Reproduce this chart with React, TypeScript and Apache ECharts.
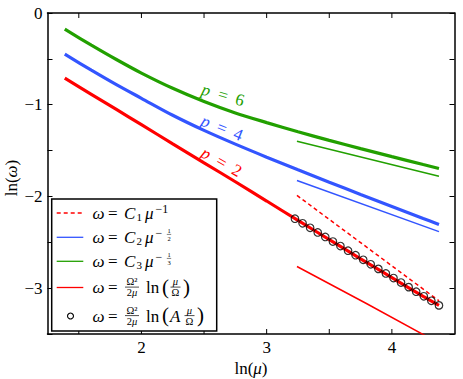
import React, { useEffect, useRef } from 'react';
import * as echarts from 'echarts';

const FONT = 'Liberation Serif, serif';
const RED = '#ff0000';
const BLUE = '#3355ff';
const GREEN = '#22a000';

const X_MIN = 1.25;
const X_MAX = 4.5;
const Y_MIN = -3.5;
const Y_MAX = 0;
const X_TICKS = [1.5, 2, 2.5, 3, 3.5, 4];

// thick curves (p = 6, 4, 2), sampled at lnMu
const lnMu = [1.388, 1.6, 1.8, 2.0, 2.25, 2.5, 2.75, 3.0, 3.25, 3.5, 3.75, 4.0, 4.25, 4.376];
const greenThick = [-0.177, -0.35, -0.507, -0.655, -0.821, -0.965, -1.09, -1.195, -1.295, -1.389, -1.479, -1.566, -1.652, -1.695];
const blueThick = [-0.449, -0.623, -0.781, -0.93, -1.115, -1.28, -1.43, -1.572, -1.71, -1.845, -1.978, -2.11, -2.241, -2.305];
const redThick = [-0.71, -0.886, -1.052, -1.218, -1.426, -1.633, -1.84, -2.05, -2.262, -2.47, -2.68, -2.885, -3.09, -3.188];

// asymptotes
const asymX = [3.242, 4.376];
const redDash = [-1.989, -3.138];
const blueThin = [-1.826, -2.384];
const greenThin = [-1.399, -1.779];
const redThinX = [3.242, 3.8, 4.376];
const redThin = [-2.764, -3.17, -3.6];

// circle markers
const circX = [3.226, 3.287, 3.347, 3.408, 3.468, 3.529, 3.589, 3.65, 3.71, 3.771, 3.831, 3.892, 3.952, 4.013, 4.073, 4.134, 4.194, 4.255, 4.315, 4.376];
const circY = [-2.243, -2.293, -2.342, -2.393, -2.442, -2.492, -2.541, -2.592, -2.641, -2.691, -2.74, -2.79, -2.84, -2.89, -2.939, -2.989, -3.039, -3.089, -3.138, -3.188];

const zip = (xs: number[], ys: number[]) => xs.map((x, i) => [x, ys[i]]);
const isInt = (v: number) => Math.abs(v - Math.round(v)) < 1e-6;
const fmtNum = (v: number) => {
  const r = Math.round(v);
  return r < 0 ? '\u2212' + Math.abs(r) : String(r);
};

const T = (x: number, y: number, text: string, size = 16, italic = false, align = 'left', extra: any = {}) => ({
  type: 'text',
  x,
  y,
  z: 110,
  silent: true,
  style: {
    text,
    fontSize: size,
    fontFamily: FONT,
    fontStyle: italic ? 'italic' : 'normal',
    fill: '#000',
    align,
    verticalAlign: 'middle',
    lineHeight: size,
    ...extra,
  },
});

const L = (x1: number, y1: number, x2: number, y2: number, stroke = '#000', lineWidth = 0.8, lineDash?: number[]) => ({
  type: 'line',
  z: 110,
  silent: true,
  shape: { x1, y1, x2, y2 },
  style: { stroke, lineWidth, lineDash },
});

const richI = (size: number) => ({ rich: { i: { fontStyle: 'italic', fontFamily: FONT, fontSize: size, lineHeight: size } } });

const frac = (cx: number, cy: number, num: string, den: string, w: number, size = 10.5) => [
  T(cx, cy - 5.6, num, size, false, 'center', richI(size)),
  L(cx - w / 2, cy - 0.4, cx + w / 2, cy - 0.4, '#000', 0.7),
  T(cx, cy + 5.4, den, size, false, 'center', richI(size)),
];

function buildLegend() {
  const rows = [213, 237.3, 261.3, 287.5, 316];
  const els: any[] = [];
  els.push({
    type: 'rect',
    z: 105,
    silent: true,
    shape: { x: 51.7, y: 199, width: 165, height: 132 },
    style: { fill: '#fff', stroke: '#000', lineWidth: 1.5 },
  });
  // samples
  els.push(L(56.7, rows[0], 83.3, rows[0], RED, 1.3, [4, 3]));
  els.push(L(56.7, rows[1], 83.3, rows[1], BLUE, 1.3));
  els.push(L(56.7, rows[2], 83.3, rows[2], GREEN, 1.3));
  els.push(L(56.7, rows[3], 83.3, rows[3], RED, 1.3));
  els.push({
    type: 'circle',
    z: 110,
    silent: true,
    shape: { cx: 70.5, cy: rows[4], r: 3 },
    style: { fill: 'none', stroke: '#000', lineWidth: 1.1 },
  });
  rows.forEach((cy) => {
    els.push(T(92.5, cy, '\u03c9', 17, true));
    els.push(T(108, cy, '=', 17));
  });
  // rows 1-3: C_k mu^-...
  [0, 1, 2].forEach((k) => {
    const cy = rows[k];
    els.push(T(124, cy, 'C', 17, true));
    els.push(T(136.5, cy + 3.5, String(k + 1), 11));
    els.push(T(145, cy, '\u03bc', 17, true));
  });
  els.push(T(155.5, rows[0] - 4.5, '\u22121', 12));
  [1, 2].forEach((k) => {
    const cy = rows[k];
    els.push(T(155.5, cy - 4.5, '\u2212', 12));
    els.push(T(169, cy - 6.5, '1', 6.5, false, 'center'));
    els.push(L(166.8, cy - 2.9, 171.2, cy - 2.9, '#000', 0.5));
    els.push(T(169, cy + 0.8, k === 1 ? '2' : '3', 6.5, false, 'center'));
  });
  // rows 4-5
  [3, 4].forEach((k) => {
    const cy = rows[k];
    els.push(...frac(132, cy, '\u03a9\u00b2', '2{i|\u03bc}', 14));
    els.push(T(146, cy, 'ln', 17));
    els.push(T(162, cy - 1, '(', 21));
  });
  els.push(...frac(175.5, rows[3], '{i|\u03bc}', '\u03a9', 10));
  els.push(T(183, rows[3] - 1, ')', 21));
  els.push(T(170, rows[4], 'A', 17, true));
  els.push(...frac(189.5, rows[4], '{i|\u03bc}', '\u03a9', 10));
  els.push(T(197, rows[4] - 1, ')', 21));
  return els;
}

function pLabel(x: number, y: number, deg: number, val: string, color: string) {
  return {
    type: 'text',
    x,
    y,
    rotation: (-deg * Math.PI) / 180,
    z: 50,
    silent: true,
    style: {
      text: '{i|p}\u2002=\u2002' + val,
      fontSize: 17,
      fontFamily: FONT,
      fill: color,
      align: 'center',
      verticalAlign: 'middle',
      rich: { i: { fontStyle: 'italic', fontSize: 17, fontFamily: FONT, fill: color } },
    },
  };
}

export default function App() {
  const ref = useRef<HTMLDivElement>(null);
  useEffect(() => {
    if (!ref.current) return;
    const chart = echarts.init(ref.current, null, { renderer: 'svg' });
    const axisLine = { show: true, onZero: false, lineStyle: { color: '#000', width: 1.5 } };
    const labelBase = { color: '#000', fontSize: 17, fontFamily: FONT };
    const thin = (name: string, data: number[][], color: string, dash?: number[]) => ({
      type: 'line',
      name,
      data,
      showSymbol: false,
      symbol: 'none',
      lineStyle: { color, width: 1.5, type: dash ? dash : 'solid' },
      z: 3,
    });
    const option: any = {
      animation: false,
      backgroundColor: '#fff',
      textStyle: { fontFamily: FONT },
      grid: { left: 47.5, right: 8.5, top: 13, bottom: 45 },
      xAxis: [
        {
          type: 'value',
          min: X_MIN,
          max: X_MAX,
          interval: 0.25,
          position: 'bottom',
          axisLine,
          axisTick: { show: false },
          splitLine: { show: false },
          axisLabel: {
            ...labelBase,
            margin: 5,
            formatter: (v: number) => (isInt(v) ? fmtNum(v) : ''),
          },
        },
        {
          type: 'value',
          min: X_MIN,
          max: X_MAX,
          interval: 0.25,
          position: 'top',
          axisLine,
          axisTick: { show: false },
          splitLine: { show: false },
          axisLabel: { show: false },
        },
      ],
      yAxis: [
        {
          type: 'value',
          min: Y_MIN,
          max: Y_MAX,
          interval: 0.5,
          position: 'left',
          axisLine,
          axisTick: { show: true, inside: true, length: 5, lineStyle: { color: '#000', width: 1 } },
          splitLine: { show: false },
          axisLabel: {
            ...labelBase,
            margin: 5,
            formatter: (v: number) => (isInt(v) ? fmtNum(v) : ''),
          },
        },
        {
          type: 'value',
          min: Y_MIN,
          max: Y_MAX,
          interval: 0.5,
          position: 'right',
          axisLine,
          axisTick: { show: true, inside: true, length: 5, lineStyle: { color: '#000', width: 1 } },
          splitLine: { show: false },
          axisLabel: { show: false },
        },
      ],
      series: [
        {
          type: 'custom',
          silent: true,
          clip: false,
          z: 4,
          data: X_TICKS.map((v) => [v, Y_MIN]),
          renderItem: (_p: any, api: any) => {
            const v = api.value(0);
            const b = api.coord([v, Y_MIN]);
            const t = api.coord([v, Y_MAX]);
            return {
              type: 'group',
              children: [
                { type: 'line', shape: { x1: b[0], y1: b[1], x2: b[0], y2: b[1] - 5 }, style: { stroke: '#000', lineWidth: 1 } },
                { type: 'line', shape: { x1: t[0], y1: t[1], x2: t[0], y2: t[1] + 5 }, style: { stroke: '#000', lineWidth: 1 } },
              ],
            };
          },
        },
        {
          type: 'line', name: 'p=6', data: zip(lnMu, greenThick), showSymbol: false, symbol: 'none', smooth: 0.3,
          lineStyle: { color: GREEN, width: 3.2 }, z: 2,
        },
        {
          type: 'line', name: 'p=4', data: zip(lnMu, blueThick), showSymbol: false, symbol: 'none', smooth: 0.3,
          lineStyle: { color: BLUE, width: 3.2 }, z: 2,
        },
        {
          type: 'line', name: 'p=2', data: zip(lnMu, redThick), showSymbol: false, symbol: 'none', smooth: 0.3,
          lineStyle: { color: RED, width: 3.2 }, z: 2,
        },
        thin('C1', zip(asymX, redDash), RED, [4, 3]),
        thin('C2', zip(asymX, blueThin), BLUE),
        thin('C3', zip(asymX, greenThin), GREEN),
        thin('ln', zip(redThinX, redThin), RED),
        {
          type: 'scatter',
          name: 'lnA',
          data: zip(circX, circY),
          symbol: 'circle',
          symbolSize: 7.5,
          itemStyle: { color: 'rgba(0,0,0,0)', borderColor: '#000', borderWidth: 1.2 },
          z: 5,
        },
      ],
      graphic: {
        elements: [
          pLabel(223, 95, 16, '6', GREEN),
          pLabel(222, 128, 22, '4', BLUE),
          pLabel(221.5, 162, 29, '2', RED),
          {
            type: 'text',
            x: 251,
            y: 368,
            silent: true,
            style: {
              text: 'ln({i|\u03bc})',
              fontSize: 17,
              fontFamily: FONT,
              fill: '#000',
              align: 'center',
              verticalAlign: 'middle',
              rich: { i: { fontStyle: 'italic', fontSize: 17, fontFamily: FONT, fill: '#000' } },
            },
          },
          {
            type: 'text',
            x: 11,
            y: 178,
            rotation: Math.PI / 2,
            silent: true,
            style: {
              text: 'ln({i|\u03c9})',
              fontSize: 17,
              fontFamily: FONT,
              fill: '#000',
              align: 'center',
              verticalAlign: 'middle',
              rich: { i: { fontStyle: 'italic', fontSize: 17, fontFamily: FONT, fill: '#000' } },
            },
          },
          ...buildLegend(),
        ],
      },
    };
    chart.setOption(option);
    return () => chart.dispose();
  }, []);
  return <div ref={ref} style={{ position: 'fixed', left: 0, top: 0, width: 463, height: 379 }} />;
}
